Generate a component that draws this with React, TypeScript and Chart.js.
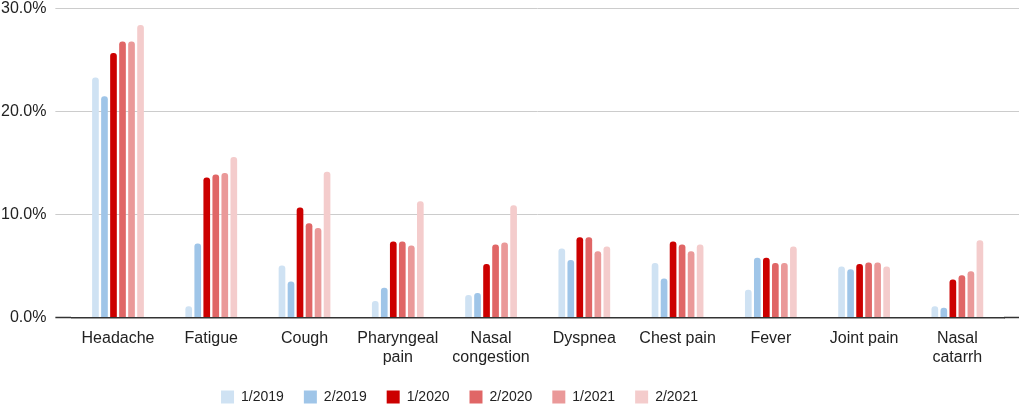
import React, { useRef, useEffect } from "react";
import Chart from "chart.js/auto";

const categories = [
  "Headache",
  "Fatigue",
  "Cough",
  ["Pharyngeal", "pain"],
  ["Nasal", "congestion"],
  "Dyspnea",
  "Chest pain",
  "Fever",
  "Joint pain",
  ["Nasal", "catarrh"],
];

const seriesNames = ["1/2019", "2/2019", "1/2020", "2/2020", "1/2021", "2/2021"];
const seriesColors = ["#cfe2f3", "#9fc5e8", "#cc0000", "#e06666", "#ea9999", "#f4cccc"];

const h1_2019 = [23.3, 1.1, 5.05, 1.6, 2.2, 6.7, 5.3, 2.7, 4.95, 1.1];
const h2_2019 = [21.5, 7.2, 3.5, 2.9, 2.4, 5.6, 3.8, 5.8, 4.7, 0.95];
const h1_2020 = [25.7, 13.6, 10.7, 7.4, 5.2, 7.8, 7.4, 5.8, 5.2, 3.7];
const h2_2020 = [26.8, 13.9, 9.15, 7.4, 7.1, 7.8, 7.1, 5.3, 5.35, 4.1];
const h1_2021 = [26.8, 14.05, 8.7, 7.0, 7.3, 6.45, 6.45, 5.3, 5.35, 4.5];
const h2_2021 = [28.4, 15.6, 14.15, 11.3, 10.9, 6.9, 7.1, 6.9, 4.95, 7.5];

const seriesValues = [h1_2019, h2_2019, h1_2020, h2_2020, h1_2021, h2_2021];

const yTicks = [0, 10, 20, 30];

const fontFamily = "'Liberation Sans', Arial, sans-serif";

// the legend sits a bit left of centre in the original
const legendShift = {
  id: "legendShift",
  afterLayout(chart: Chart) {
    const lg: any = chart.legend;
    if (lg) {
      lg.left -= 46;
      lg.right -= 46;
    }
  },
};

// gridline tick colour: darker for the 0 baseline
const tickColor = (c: any) => (c.tick && c.tick.value === 0 ? "#333" : "#cccccc");
const tickWidth = (c: any) => (c.tick && c.tick.value === 0 ? 1.5 : 1);

const App: React.FC = () => {
  const chartRef = useRef<HTMLCanvasElement>(null);
  const chartInstance = useRef<Chart | null>(null);

  useEffect(() => {
    document.body.style.margin = "0";
    if (!chartRef.current) return;
    const ctx = chartRef.current.getContext("2d");
    if (!ctx) return;
    if (chartInstance.current) chartInstance.current.destroy();

    chartInstance.current = new Chart(ctx, {
      type: "bar",
      data: {
        labels: categories as any,
        datasets: seriesNames.map((name, i) => ({
          label: name,
          data: seriesValues[i],
          backgroundColor: seriesColors[i],
          borderRadius: 3,
          borderSkipped: "start",
          categoryPercentage: 0.58,
          barPercentage: 0.74,
          yAxisID: "y",
        })),
      },
      options: {
        animation: false,
        events: [],
        responsive: true,
        maintainAspectRatio: false,
        layout: { padding: { left: -8, right: 3, top: 0, bottom: -4 } },
        plugins: {
          tooltip: { enabled: false },
          legend: {
            position: "bottom",
            labels: {
              boxWidth: 13,
              boxHeight: 13,
              padding: 20,
              color: "#222",
              font: { family: fontFamily, size: 14 },
            },
          },
        },
        scales: {
          x: {
            grid: { display: false },
            border: { color: "#333", width: 1.5 },
            ticks: {
              color: "#222",
              font: { family: fontFamily, size: 16 },
              maxRotation: 0,
              autoSkip: false,
            },
          },
          y: {
            min: 0,
            max: 30,
            afterBuildTicks: (axis) => {
              axis.ticks = yTicks.map((v) => ({ value: v }));
            },
            grid: {
              color: "#cccccc",
              lineWidth: 1,
              drawTicks: true,
              tickLength: 16,
              tickColor,
              tickWidth,
            },
            border: { display: false },
            ticks: {
              color: "#222",
              padding: 9,
              font: { family: fontFamily, size: 16 },
              callback: (v) => Number(v).toFixed(1) + "%",
            },
          },
          yRight: {
            position: "right",
            min: 0,
            max: 30,
            afterBuildTicks: (axis) => {
              axis.ticks = yTicks.map((v) => ({ value: v }));
            },
            grid: {
              drawOnChartArea: false,
              drawTicks: true,
              tickLength: 15,
              tickColor,
              tickWidth,
            },
            border: { display: false },
            ticks: { display: false, padding: 0 },
          },
        },
      },
      plugins: [legendShift],
    });

    return () => {
      if (chartInstance.current) {
        chartInstance.current.destroy();
        chartInstance.current = null;
      }
    };
  }, []);

  return (
    <div style={{ width: 1022, height: 420, marginTop: -10, position: "relative" }}>
      <canvas ref={chartRef} />
    </div>
  );
};

export default App;
